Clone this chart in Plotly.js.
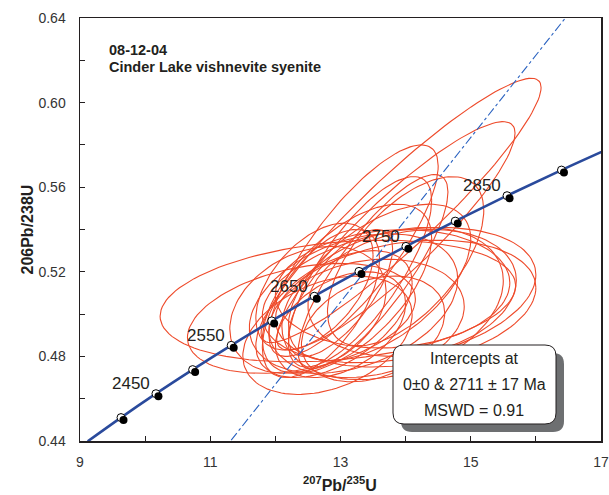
<!DOCTYPE html>
<html>
<head>
<meta charset="utf-8">
<script src="https://cdn.plot.ly/plotly-3.0.1.min.js"></script>
<style>html,body{margin:0;padding:0;background:#fff}#chart{width:609px;height:495px}</style>
</head>
<body>
<div id="chart"></div>
<script>
// Concordia marker ages (Ma) and their ratios
var concAges = [2350, 2400, 2450, 2500, 2550, 2600, 2650, 2700, 2750, 2800, 2850, 2900, 2950];
var concX = [9.1188, 9.6296, 10.1661, 10.7297, 11.3217, 11.9437, 12.5971, 13.2834, 14.0043, 14.7617, 15.5573, 16.3930, 17.2708];
var concY = [0.43986, 0.45107, 0.46237, 0.47375, 0.48523, 0.49679, 0.50845, 0.52019, 0.53203, 0.54396, 0.55598, 0.56810, 0.58031];
var markerAges = [2400, 2450, 2500, 2550, 2600, 2650, 2700, 2750, 2800, 2850, 2900];
var labelAges = [2450, 2550, 2650, 2750, 2850];

// Discordia: lower intercept (0,0) through upper intercept 2711 Ma, extended
var discX = [0, 18];
var discY = [0, 0.7002];

// Error ellipses: centre, half-width (207/235), half-height (206/238), correlation
var ellCx  = [12.96, 13.93, 13.85, 13.50, 13.90, 13.20, 12.90, 13.10, 12.70, 13.40, 13.00, 13.60, 12.50, 13.30, 13.80, 12.80, 13.00, 14.00, 12.60, 13.50, 14.10, 13.20, 14.00, 13.80, 12.40];
var ellCy  = [0.5062, 0.549, 0.537, 0.520, 0.509, 0.505, 0.500, 0.512, 0.505, 0.498, 0.495, 0.515, 0.502, 0.520, 0.505, 0.490, 0.510, 0.525, 0.513, 0.493, 0.510, 0.530, 0.505, 0.512, 0.498];
var ellA   = [2.73, 2.15, 1.83, 1.15, 2.10, 1.60, 1.20, 1.30, 0.90, 1.50, 1.00, 1.40, 1.20, 1.10, 1.70, 1.30, 0.80, 1.20, 0.90, 1.10, 1.60, 1.30, 2.00, 1.80, 1.75];
var ellB   = [0.0288, 0.0625, 0.054, 0.046, 0.032, 0.033, 0.030, 0.040, 0.035, 0.028, 0.025, 0.037, 0.030, 0.045, 0.036, 0.028, 0.030, 0.040, 0.030, 0.025, 0.030, 0.050, 0.030, 0.028, 0.026];
var ellRho = [0.25, 0.93, 0.90, 0.82, 0.30, 0.35, 0.50, 0.60, 0.60, 0.20, 0.40, 0.55, 0.30, 0.75, 0.30, 0.35, 0.70, 0.60, 0.50, 0.30, 0.20, 0.80, 0.25, 0.10, 0.35];

var xTickVals = [9, 11, 13, 15, 17];
var yTickVals = [0.44, 0.48, 0.52, 0.56, 0.60, 0.64];

var txtColor = '#231f20';
var fam = 'Liberation Sans, Arial, sans-serif';
var traces = [];

// ellipses
for (var i = 0; i < ellCx.length; i++) {
  var ex = [], ey = [];
  var s = Math.sqrt(1 - ellRho[i] * ellRho[i]);
  for (var k = 0; k <= 120; k++) {
    var t = 2 * Math.PI * k / 120;
    ex.push(ellCx[i] + ellA[i] * Math.cos(t));
    ey.push(ellCy[i] + ellB[i] * (ellRho[i] * Math.cos(t) + s * Math.sin(t)));
  }
  traces.push({x: ex, y: ey, mode: 'lines', type: 'scatter', line: {color: '#ee4a2a', width: 1.1}, hoverinfo: 'skip', showlegend: false});
}

// discordia
traces.push({x: discX, y: discY, mode: 'lines', type: 'scatter', line: {color: '#2a62c0', width: 1.1, dash: 'dashdot'}, showlegend: false});

// concordia curve
traces.push({x: concX, y: concY, mode: 'lines', type: 'scatter', line: {color: '#2a4a9c', width: 2.6, shape: 'spline'}, showlegend: false});

// marker positions
var mX = [], mY = [];
markerAges.forEach(function (a) { var j = concAges.indexOf(a); mX.push(concX[j]); mY.push(concY[j]); });

// shadow balls (drawn on slightly shifted overlay axes)
traces.push({x: mX, y: mY, xaxis: 'x2', yaxis: 'y2', mode: 'markers', type: 'scatter',
  marker: {symbol: 'circle', size: 8, color: '#000000', line: {width: 0}}, showlegend: false});
// white markers
traces.push({x: mX, y: mY, mode: 'markers', type: 'scatter',
  marker: {symbol: 'circle', size: 8, color: '#ffffff', line: {color: '#000000', width: 1}}, showlegend: false});

var annotations = [];
labelAges.forEach(function (a) {
  var j = concAges.indexOf(a);
  annotations.push({x: concX[j], y: concY[j], xref: 'x', yref: 'y', text: String(a), showarrow: false,
    xshift: -25, yshift: 10, font: {family: fam, size: 17, color: txtColor}});
});
annotations.push({xref: 'paper', yref: 'paper', x: 0.0518, y: 0.9255, xanchor: 'left', yanchor: 'middle',
  text: '<b>08-12-04</b>', showarrow: false, font: {family: fam, size: 14.5, color: txtColor}});
annotations.push({xref: 'paper', yref: 'paper', x: 0.0518, y: 0.8853, xanchor: 'left', yanchor: 'middle',
  text: '<b>Cinder Lake vishnevite syenite</b>', showarrow: false, font: {family: fam, size: 14.5, color: txtColor}});
var boxLines = ['Intercepts at', '0±0 &amp; 2711 ± 17 Ma', 'MSWD = 0.91'];
var boxYs = [358, 384, 410];
boxLines.forEach(function (t, i) {
  annotations.push({xref: 'paper', yref: 'paper', x: (474 - 80) / 521, y: (441 - boxYs[i]) / 423, xanchor: 'center', yanchor: 'middle',
    text: t, showarrow: false, font: {family: fam, size: 16, color: txtColor}});
});
// axis titles
annotations.push({xref: 'paper', yref: 'paper', x: (340 - 80) / 521, y: (441 - 484) / 423, xanchor: 'center', yanchor: 'middle',
  text: '<b><sup>207</sup>Pb/<sup>235</sup>U</b>', showarrow: false, font: {family: fam, size: 16, color: txtColor}});
annotations.push({xref: 'paper', yref: 'paper', x: (27 - 80) / 521, y: 0.5, xanchor: 'center', yanchor: 'middle', textangle: -90,
  text: '<b>206Pb/238U</b>', showarrow: false, font: {family: fam, size: 16, color: txtColor}});

function rrect(x0p, y0p, x1p, y1p, r) {
  function px(x) { return ((x - 80) / 521).toFixed(5); }
  function py(y) { return ((441 - y) / 423).toFixed(5); }
  return 'M' + px(x0p + r) + ',' + py(y0p) + ' L' + px(x1p - r) + ',' + py(y0p) +
    ' Q' + px(x1p) + ',' + py(y0p) + ' ' + px(x1p) + ',' + py(y0p + r) +
    ' L' + px(x1p) + ',' + py(y1p - r) +
    ' Q' + px(x1p) + ',' + py(y1p) + ' ' + px(x1p - r) + ',' + py(y1p) +
    ' L' + px(x0p + r) + ',' + py(y1p) +
    ' Q' + px(x0p) + ',' + py(y1p) + ' ' + px(x0p) + ',' + py(y1p - r) +
    ' L' + px(x0p) + ',' + py(y0p + r) +
    ' Q' + px(x0p) + ',' + py(y0p) + ' ' + px(x0p + r) + ',' + py(y0p) + ' Z';
}

var shapes = [
  {type: 'path', xref: 'paper', yref: 'paper', path: rrect(401, 353, 564, 432, 11), fillcolor: '#6d6f71', line: {width: 0}, layer: 'above'},
  {type: 'path', xref: 'paper', yref: 'paper', path: rrect(393, 345, 556, 424, 11), fillcolor: '#ffffff', line: {color: '#231f20', width: 1}, layer: 'above'}
];

var axFont = {family: fam, size: 14, color: '#333333'};
var layout = {
  width: 609, height: 495,
  margin: {l: 80, r: 8, t: 18, b: 54, pad: 0},
  paper_bgcolor: '#ffffff', plot_bgcolor: '#ffffff',
  showlegend: false,
  xaxis: {range: [9, 17], tickvals: xTickVals, ticktext: xTickVals.map(String), ticks: 'inside', ticklen: 5, tickcolor: '#231f20', tickwidth: 1,
    minor: {dtick: 1, tick0: 9, ticks: 'inside', ticklen: 5, tickcolor: '#231f20', tickwidth: 1},
    showline: true, linecolor: '#231f20', linewidth: 1.5, mirror: true, showgrid: false, zeroline: false,
    tickfont: axFont, ticklabelstandoff: 8},
  yaxis: {range: [0.44, 0.64], tickvals: yTickVals, ticktext: yTickVals.map(function (v) { return v.toFixed(2); }), ticks: 'inside', ticklen: 5, tickcolor: '#231f20', tickwidth: 1,
    minor: {dtick: 0.02, tick0: 0.44, ticks: 'inside', ticklen: 5, tickcolor: '#231f20', tickwidth: 1},
    showline: true, linecolor: '#231f20', linewidth: 1.5, mirror: true, showgrid: false, zeroline: false,
    tickfont: axFont, ticklabelstandoff: 10},
  xaxis2: {range: [9 - 2.5 / 65.1, 17 - 2.5 / 65.1], overlaying: 'x', visible: false},
  yaxis2: {range: [0.44 + 2.5 / 2115, 0.64 + 2.5 / 2115], overlaying: 'y', visible: false},
  annotations: annotations,
  shapes: shapes
};

Plotly.newPlot('chart', traces, layout, {displayModeBar: false, staticPlot: true});
</script>
</body>
</html>
